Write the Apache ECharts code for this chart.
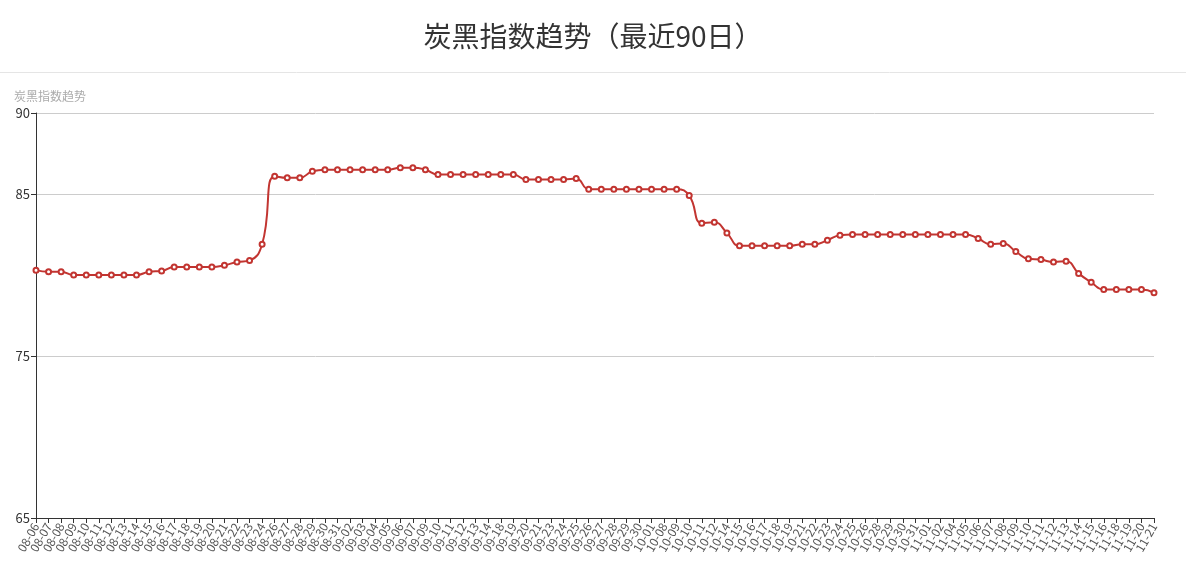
<!DOCTYPE html>
<html>
<head>
<meta charset="utf-8">
<script src="https://cdn.jsdelivr.net/npm/echarts@6/dist/echarts.min.js"></script>
<style>
html,body{margin:0;padding:0;background:#fff;}
#chart{width:1186px;height:569px;}
</style>
</head>
<body>
<div id="chart"></div>
<script>
const categories = ["08-06","08-07","08-08","08-09","08-10","08-11","08-12","08-13","08-14","08-15","08-16","08-17","08-18","08-19","08-20","08-21","08-22","08-23","08-24","08-26","08-27","08-28","08-29","08-30","08-31","09-02","09-03","09-04","09-05","09-06","09-07","09-09","09-10","09-11","09-12","09-13","09-14","09-18","09-19","09-20","09-21","09-23","09-24","09-25","09-26","09-27","09-28","09-29","09-30","10-01","10-08","10-09","10-10","10-11","10-12","10-14","10-15","10-16","10-17","10-18","10-19","10-21","10-22","10-23","10-24","10-25","10-26","10-28","10-29","10-30","10-31","11-01","11-02","11-04","11-05","11-06","11-07","11-08","11-09","11-10","11-11","11-12","11-13","11-14","11-15","11-16","11-18","11-19","11-20","11-21"];
const indexValues = [80.3,80.2,80.2,80.0,80.0,80.0,80.0,80.0,80.0,80.2,80.25,80.5,80.5,80.5,80.5,80.6,80.8,80.9,81.9,86.1,86.0,86.0,86.4,86.5,86.5,86.5,86.5,86.5,86.5,86.62,86.62,86.5,86.2,86.2,86.2,86.2,86.2,86.2,86.2,85.9,85.9,85.9,85.9,85.95,85.3,85.3,85.3,85.3,85.3,85.3,85.3,85.3,84.9,83.2,83.25,82.6,81.8,81.8,81.8,81.8,81.8,81.9,81.9,82.15,82.45,82.5,82.5,82.5,82.5,82.5,82.5,82.5,82.5,82.5,82.5,82.25,81.9,81.95,81.45,81.0,80.95,80.8,80.85,80.1,79.55,79.1,79.1,79.1,79.1,78.9];
const yTicks = {min: 65, max: 90, interval: 10};
const titleText = "炭黑指数趋势（最近90日）";
const axisName = "炭黑指数趋势";

const chart = echarts.init(document.getElementById('chart'));
const FONT = "'Microsoft YaHei','Noto Sans CJK SC',sans-serif";
chart.setOption({
  animation: false,
  textStyle: {fontFamily: FONT},
  title: [
    {text: titleText, left: 'center', top: 17, textStyle: {fontSize: 28, fontWeight: 'normal', color: '#333', fontFamily: FONT}},
    {text: axisName, left: 9, top: 85, textStyle: {fontSize: 12, fontWeight: 'normal', color: '#aaa', fontFamily: FONT}}
  ],
  graphic: [{type: 'line', shape: {x1: 0, y1: 72.5, x2: 1186, y2: 72.5}, style: {stroke: '#e5e5e5', lineWidth: 1}}],
  grid: {left: 36, right: 32, top: 113, bottom: 51, containLabel: false},
  xAxis: {
    type: 'category',
    data: categories,
    boundaryGap: false,
    axisLine: {show: true, lineStyle: {color: '#333'}},
    axisTick: {show: true, interval: 0, length: 5, lineStyle: {color: '#333'}},
    axisLabel: {interval: 0, rotate: 60, fontSize: 12, color: '#555', margin: 6, fontFamily: FONT},
    splitLine: {show: false}
  },
  yAxis: {
    type: 'value',
    min: yTicks.min, max: yTicks.max, interval: yTicks.interval,
    axisLine: {show: true, lineStyle: {color: '#333'}},
    axisTick: {show: true, length: 5, lineStyle: {color: '#333'}},
    axisLabel: {fontSize: 13, color: '#333', margin: 6, fontFamily: FONT},
    splitLine: {show: true, lineStyle: {color: '#ccc'}}
  },
  series: [{
    type: 'line',
    data: indexValues,
    smooth: true,
    symbol: 'emptyCircle',
    symbolSize: 5,
    showSymbol: true,
    lineStyle: {color: '#c23531', width: 2},
    itemStyle: {color: '#c23531', borderWidth: 1},
    emphasis: {disabled: true}
  }]
});
</script>
</body>
</html>
